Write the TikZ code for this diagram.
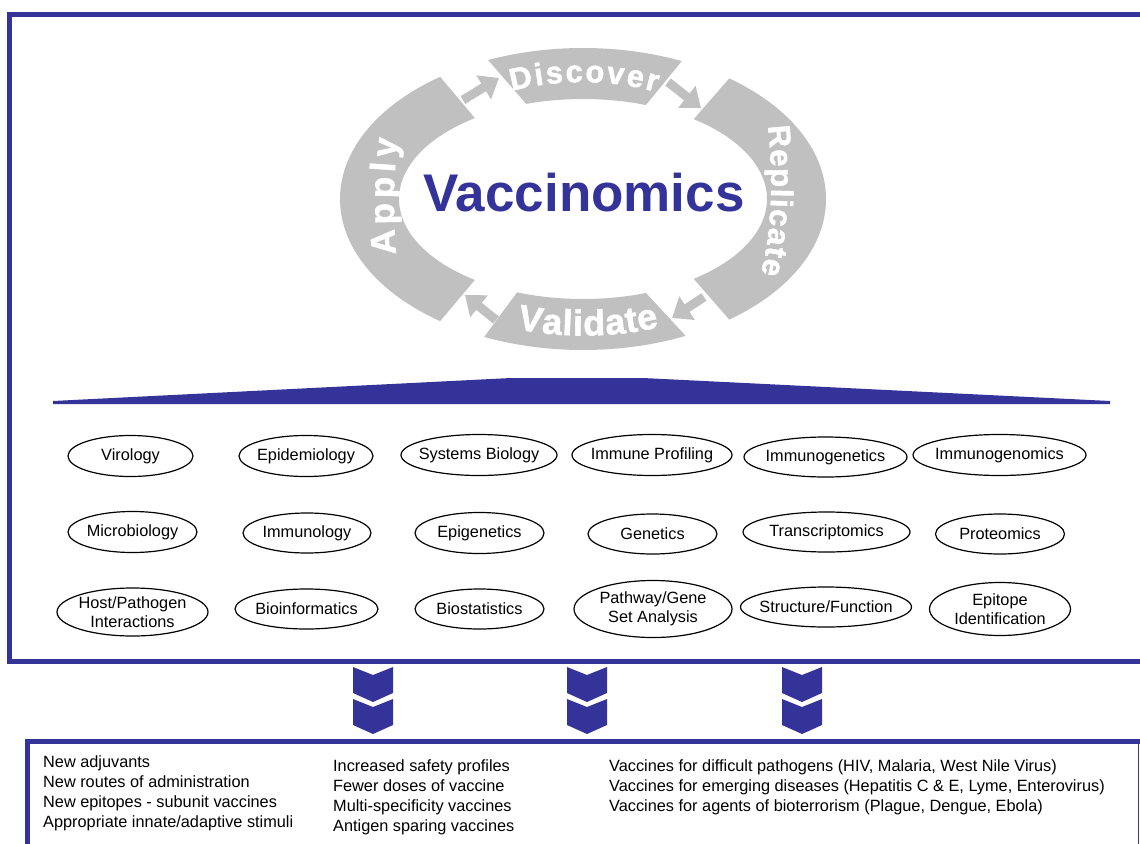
\documentclass[tikz,border=0pt]{standalone}
\usepackage{fontspec}
\setmainfont{Liberation Sans}
\newfontfamily\ringfont[FakeBold=1.6]{Liberation Sans Bold}
\usetikzlibrary{arrows.meta,decorations.text}
\definecolor{vblue}{RGB}{51,51,153}
\definecolor{ringgray}{RGB}{192,192,192}

% annular sector of the cycle ring: outer arc #1->#2, inner arc #4->#3 (angles measured upwards)
\newcommand{\ringseg}[4]{%
  \fill[ringgray] ({583+243*cos(#1)},{199-151*sin(#1)})
    arc[start angle={-(#1)}, end angle={-(#2)}, x radius=243, y radius=151]
    -- ({583+184*cos(#4)},{199-100*sin(#4)})
    arc[start angle={-(#4)}, end angle={-(#3)}, x radius=184, y radius=100]
    -- cycle;}

% discipline label inside an ellipse: name, x, y, width, height, text
\newcommand{\fieldnode}[6]{%
  \node[fieldtext] (#1) at (#2,#3) {#6};
  \draw[fieldline] (#1.center) ellipse [x radius={#4/2}, y radius={#5/2}];}

\begin{document}
\begin{tikzpicture}[x=1pt,y=-1pt,
  fieldtext/.style={inner sep=0pt, align=center, font=\fontsize{16.3}{19}\selectfont},
  fieldline/.style={draw=black, line width=1.2pt},
  cyclearrow/.style={draw=ringgray, line width=9pt, -{Triangle[width=27pt,length=18pt]}},
  coltext/.style={inner sep=0pt, align=left, anchor=north west, font=\fontsize{16.3}{20}\selectfont},
  frameline/.style={draw=vblue, line width=5pt},
  chevron/.style={fill=vblue}]
\useasboundingbox (0,0) rectangle (1140,843);

% outer frames
\draw[frameline] (1150,14.5) -- (9.5,14.5) -- (9.5,661.5) -- (1150,661.5);
\draw[frameline] (27.5,850) -- (27.5,741.5) -- (1140,741.5);
\draw[draw=vblue, line width=1.3pt] (1138.5,741.5) -- (1138.5,850);

% cycle ring
\ringseg{113}{66}{108}{70}     % Discover
\ringseg{53}{-53}{53}{-53}     % Replicate
\ringseg{-65}{-114}{-70}{-111} % Validate
\ringseg{234}{126}{234}{126}   % Apply

\draw[cyclearrow] (463,100) -- (499,78);
\draw[cyclearrow] (668,82) -- (701,108);
\draw[cyclearrow] (704,297) -- (672,318);
\draw[cyclearrow] (496,320) -- (465,295);

\path[decorate, decoration={text along path, text align=fit to path, text color=white,
  text={|\fontsize{31}{31}\ringfont|Discover}}]
  (512,91) .. controls (555,79) and (612,79) .. (656,92);
\path[decorate, decoration={text along path, text align=fit to path, text color=white,
  text={|\fontsize{31}{31}\ringfont|Replicate}}]
  (768,126) .. controls (773,175) and (773,225) .. (761,274);
\path[decorate, decoration={text along path, text align=fit to path, text color=white,
  text={|\fontsize{36}{36}\ringfont|Validate}}]
  (517,329) .. controls (560,338) and (615,338) .. (659,327);
\path[decorate, decoration={text along path, text align=fit to path, text color=white,
  text={|\fontsize{35}{35}\ringfont|Apply}}]
  (396,254) .. controls (393,215) and (393,175) .. (398,139);

\node[text=vblue, inner sep=0pt, font=\fontsize{53}{53}\selectfont\bfseries] (title) at (584,193) {Vaccinomics};

% wedge
\fill[vblue] (53,401) -- (511,378) -- (643,378) -- (1110,401) -- (1110,404) -- (53,404) -- cycle;

% disciplines
\fieldnode{virology}{130.5}{456}{125}{41}{Virology}
\fieldnode{epidemiology}{306}{456}{134}{41}{Epidemiology}
\fieldnode{sysbio}{479}{455}{156}{41}{Systems Biology}
\fieldnode{profiling}{652}{455}{160}{41}{Immune Profiling}
\fieldnode{immgenetics}{825.5}{457}{163}{40}{Immunogenetics}
\fieldnode{immgenomics}{999.5}{455}{173}{41}{Immunogenomics}

\fieldnode{microbio}{132.5}{532}{129}{41}{Microbiology}
\fieldnode{immunology}{307}{533}{128}{40}{Immunology}
\fieldnode{epigenetics}{479.5}{533}{129}{41}{Epigenetics}
\fieldnode{genetics}{652.5}{534}{129}{40}{Genetics}
\fieldnode{transcript}{826.5}{532}{167}{40}{Transcriptomics}
\fieldnode{proteomics}{1000}{534}{129}{40}{Proteomics}

\fieldnode{hostpath}{132.5}{612}{151}{48}{Host/Pathogen\\Interactions}
\fieldnode{bioinf}{306.5}{609}{143}{40}{Bioinformatics}
\fieldnode{biostat}{479.5}{609}{129}{40}{Biostatistics}
\fieldnode{pathway}{653}{609}{158}{57}{Pathway/Gene\\Set Analysis}
\fieldnode{structure}{826}{607}{171}{40}{Structure/Function}
\fieldnode{epitope}{1000}{609}{141}{53}{Epitope\\Identification}

% chevrons
\foreach \cx in {373,587,802} {
  \foreach \yy in {667,699} {
    \fill[chevron] (\cx-20,\yy) -- (\cx,\yy+8) -- (\cx+20,\yy) -- (\cx+20,\yy+26)
      -- (\cx,\yy+35) -- (\cx-20,\yy+26) -- cycle;
  }
}

% outcomes
\node[coltext] (goals) at (43,755.5) {New adjuvants\\New routes of administration\\New epitopes - subunit vaccines\\Appropriate innate/adaptive stimuli};
\node[coltext] (benefits) at (333,759.5) {Increased safety profiles\\Fewer doses of vaccine\\Multi-specificity vaccines\\Antigen sparing vaccines};
\node[coltext] (targets) at (609,759.5) {Vaccines for difficult pathogens (HIV, Malaria, West Nile Virus)\\Vaccines for emerging diseases (Hepatitis C \& E, Lyme, Enterovirus)\\Vaccines for agents of bioterrorism (Plague, Dengue, Ebola)};
\end{tikzpicture}
\end{document}
